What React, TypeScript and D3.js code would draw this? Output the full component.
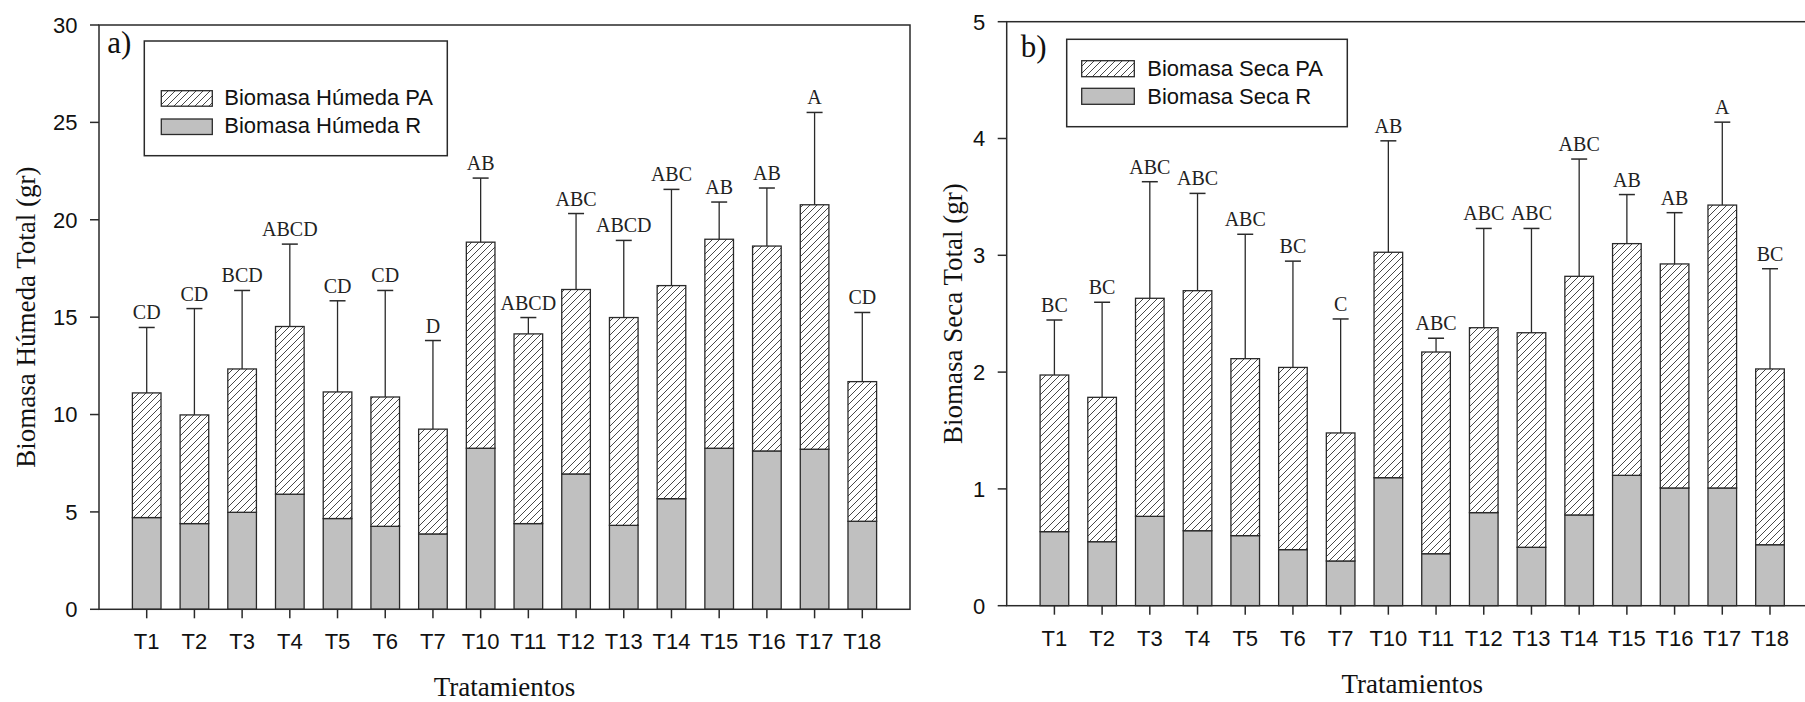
import React from "react";
import * as d3 from "d3";

const categories = ["T1", "T2", "T3", "T4", "T5", "T6", "T7", "T10", "T11", "T12", "T13", "T14", "T15", "T16", "T17", "T18"];

// Panel a) Biomasa Húmeda (gr)
const humedaR = [4.71, 4.40, 4.98, 5.91, 4.66, 4.26, 3.87, 8.27, 4.40, 6.95, 4.31, 5.68, 8.27, 8.13, 8.22, 4.52];
const humedaPA = [6.40, 5.58, 7.36, 8.61, 6.50, 6.64, 5.38, 10.58, 9.74, 9.47, 10.67, 10.94, 10.73, 10.52, 12.55, 7.17];
const humedaErr = [3.36, 5.46, 4.03, 4.23, 4.68, 5.47, 4.55, 3.29, 0.84, 3.90, 3.96, 4.94, 1.91, 2.98, 4.74, 3.55];
const humedaLetters = ["CD", "CD", "BCD", "ABCD", "CD", "CD", "D", "AB", "ABCD", "ABC", "ABCD", "ABC", "AB", "AB", "A", "CD"];
const humedaTicks = [0, 5, 10, 15, 20, 25, 30];

// Panel b) Biomasa Seca (gr)
const secaR = [0.634, 0.548, 0.765, 0.642, 0.60, 0.48, 0.383, 1.096, 0.445, 0.797, 0.50, 0.777, 1.116, 1.008, 1.008, 0.522];
const secaPA = [1.341, 1.236, 1.867, 2.055, 1.515, 1.56, 1.096, 1.93, 1.727, 1.583, 1.837, 2.043, 1.984, 1.918, 2.422, 1.505];
const secaErr = [0.471, 0.814, 0.998, 0.833, 1.065, 0.91, 0.976, 0.954, 0.118, 0.85, 0.893, 1.004, 0.42, 0.439, 0.71, 0.858];
const secaLetters = ["BC", "BC", "ABC", "ABC", "ABC", "BC", "C", "AB", "ABC", "ABC", "ABC", "ABC", "AB", "AB", "A", "BC"];
const secaTicks = [0, 1, 2, 3, 4, 5];

const SANS = "'Liberation Sans', Arial, sans-serif";
const SERIF = "'Liberation Serif', 'Times New Roman', serif";
const INK = "#2a2a2a";

type PanelProps = {
  x0: number; x1: number; yTop: number; yBottom: number; yMax: number;
  ticks: number[]; r: number[]; pa: number[]; err: number[]; letters: string[];
  yLabel: string; yLabelX: number; tag: string; tagDx: number; tagDy: number;
  legendLabels: string[];
  lg: { bx: number; by: number; bw: number; bh: number; sx: number; sw: number; sh: number; sy: number[]; tx: number; ty: number[] };
  patternId: string;
};

function Panel(p: PanelProps) {
  const x = d3.scalePoint<string>().domain(categories).range([p.x0, p.x1]).padding(1);
  const y = d3.scaleLinear().domain([0, p.yMax]).range([p.yBottom, p.yTop]);
  const bw = x.step() * 0.6;
  const cx = (p.x0 + p.x1) / 2;
  const cy = (p.yTop + p.yBottom) / 2;
  const stacked = d3.stack<number>().keys(["r", "pa"]).value((i, k) => (k === "r" ? p.r[i] : p.pa[i]))(d3.range(categories.length));
  return (
    <g>
      {stacked.map((layer, li) =>
        layer.map((d, i) => (
          <rect
            key={`${li}-${i}`}
            x={(x(categories[i]) as number) - bw / 2}
            y={y(d[1])}
            width={bw}
            height={y(d[0]) - y(d[1])}
            fill={li === 0 ? "#c0c0c0" : `url(#${p.patternId})`}
            stroke={INK}
            strokeWidth={1.3}
          />
        ))
      )}
      {categories.map((c, i) => {
        const total = p.r[i] + p.pa[i];
        const xc = x(c) as number;
        const yt = y(total + p.err[i]);
        return (
          <g key={c}>
            <line x1={xc} x2={xc} y1={y(total)} y2={yt} stroke={INK} strokeWidth={1.3} />
            <line x1={xc - 8} x2={xc + 8} y1={yt} y2={yt} stroke={INK} strokeWidth={1.5} />
            <text x={xc} y={yt - 8} textAnchor="middle" fontFamily={SERIF} fontSize={20} fill="#222">
              {p.letters[i]}
            </text>
          </g>
        );
      })}
      <rect x={p.x0} y={p.yTop} width={p.x1 - p.x0} height={p.yBottom - p.yTop} fill="none" stroke={INK} strokeWidth={1.5} />
      {p.ticks.map((t) => (
        <g key={t}>
          <line x1={p.x0 - 9} x2={p.x0} y1={y(t)} y2={y(t)} stroke={INK} strokeWidth={1.5} />
          <text x={p.x0 - 21.5} y={y(t)} dy="0.36em" textAnchor="end" fontFamily={SANS} fontSize={22} fill="#111">
            {t}
          </text>
        </g>
      ))}
      {categories.map((c) => (
        <g key={c}>
          <line x1={x(c) as number} x2={x(c) as number} y1={p.yBottom} y2={p.yBottom + 9} stroke={INK} strokeWidth={1.5} />
          <text x={x(c) as number} y={p.yBottom + 40} textAnchor="middle" fontFamily={SANS} fontSize={22} fill="#111">
            {c}
          </text>
        </g>
      ))}
      <text transform={`translate(${p.yLabelX},${cy}) rotate(-90)`} textAnchor="middle" fontFamily={SERIF} fontSize={27} fill="#111">
        {p.yLabel}
      </text>
      <text x={cx} y={p.yBottom + 87} textAnchor="middle" fontFamily={SERIF} fontSize={27} fill="#111">
        Tratamientos
      </text>
      <text x={p.x0 + p.tagDx} y={p.yTop + p.tagDy} fontFamily={SERIF} fontSize={31} fill="#111">
        {p.tag}
      </text>
      <rect x={p.x0 + p.lg.bx} y={p.yTop + p.lg.by} width={p.lg.bw} height={p.lg.bh} fill="white" stroke={INK} strokeWidth={1.5} />
      {p.legendLabels.map((l, i) => (
        <g key={l}>
          <rect
            x={p.x0 + p.lg.sx}
            y={p.yTop + p.lg.sy[i]}
            width={p.lg.sw}
            height={p.lg.sh}
            fill={i === 0 ? `url(#${p.patternId})` : "#c0c0c0"}
            stroke={INK}
            strokeWidth={1.3}
          />
          <text x={p.x0 + p.lg.tx} y={p.yTop + p.lg.ty[i]} fontFamily={SANS} fontSize={22} fill="#111">
            {l}
          </text>
        </g>
      ))}
    </g>
  );
}

export default function App() {
  return (
    <svg width={1805} height={702} style={{ position: "absolute", left: 0, top: 0, background: "white" }}>
      <defs>
        {["hatchA", "hatchB"].map((id) => (
          <pattern key={id} id={id} patternUnits="userSpaceOnUse" width={7} height={7}>
            <rect width={7} height={7} fill="white" />
            <path d="M0,7 L7,0 M-1,1 L1,-1 M6,8 L8,6" stroke="#333" strokeWidth={0.9} />
          </pattern>
        ))}
      </defs>
      <rect width={1805} height={702} fill="white" />
      <Panel
        x0={99} x1={910} yTop={25} yBottom={609.3} yMax={30}
        ticks={humedaTicks} r={humedaR} pa={humedaPA} err={humedaErr} letters={humedaLetters}
        yLabel="Biomasa Húmeda Total (gr)" yLabelX={35}
        tag="a)" tagDx={8.3} tagDy={28.3}
        legendLabels={["Biomasa Húmeda PA", "Biomasa Húmeda R"]}
        lg={{ bx: 45.3, by: 16, bw: 303, bh: 114.7, sx: 62.3, sw: 51, sh: 15.5, sy: [65.7, 94], tx: 125.3, ty: [80, 108.3] }}
        patternId="hatchA"
      />
      <Panel
        x0={1006.7} x1={1817.7} yTop={21.7} yBottom={605.7} yMax={5}
        ticks={secaTicks} r={secaR} pa={secaPA} err={secaErr} letters={secaLetters}
        yLabel="Biomasa Seca Total (gr)" yLabelX={961.5}
        tag="b)" tagDx={14} tagDy={35}
        legendLabels={["Biomasa Seca PA", "Biomasa Seca R"]}
        lg={{ bx: 60, by: 17.6, bw: 280.6, bh: 87.4, sx: 75, sw: 52.6, sh: 16, sy: [39, 66.6], tx: 140.6, ty: [54.3, 82.3] }}
        patternId="hatchB"
      />
    </svg>
  );
}
